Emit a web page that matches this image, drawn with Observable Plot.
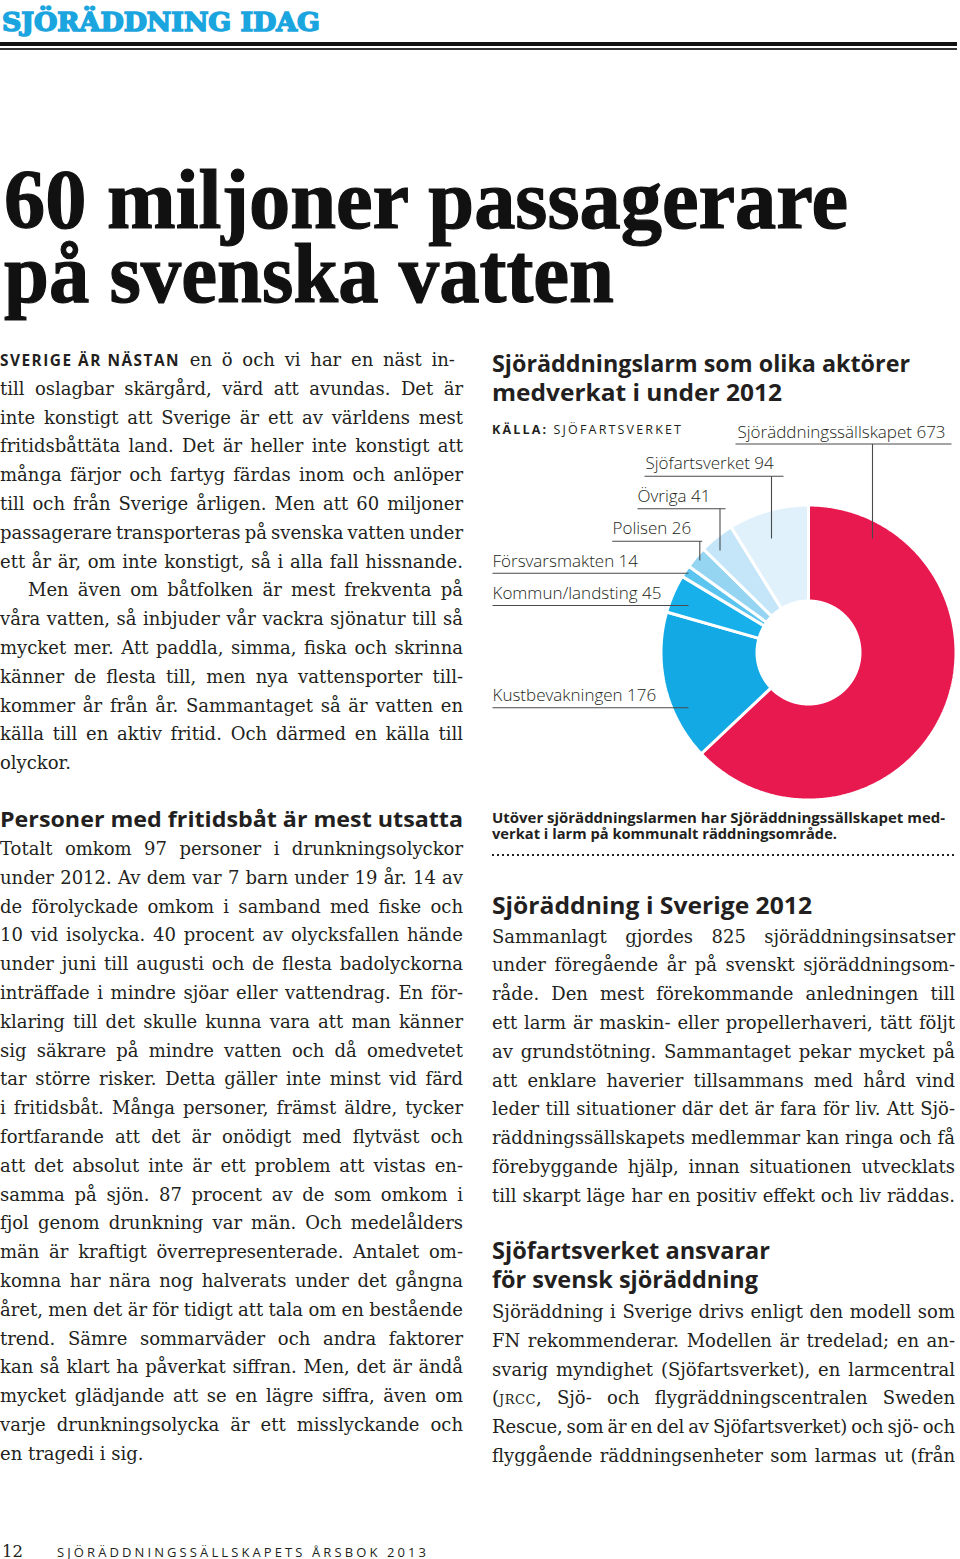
<!DOCTYPE html>
<html><head><meta charset="utf-8">
<script src="https://cdn.jsdelivr.net/npm/d3@7"></script>
<script src="https://cdn.jsdelivr.net/npm/@observablehq/plot@0.6"></script>
<style>
html,body{margin:0;padding:0;background:#fff;}
#page{position:relative;width:960px;height:1559px;overflow:hidden;background:#fff;color:#231f20;}
.t{position:absolute;white-space:pre;line-height:1;z-index:2;}
.ln{display:inline-block;transform-origin:0 0;}
.sc{font-variant-caps:all-small-caps;letter-spacing:0.5px;}
.lead{font-family:"Open Sans",sans-serif;font-weight:700;font-size:15.4px;letter-spacing:1.5px;word-spacing:0;}
#chart{position:absolute;left:480px;top:410px;width:480px;height:400px;z-index:1;}
</style></head><body><div id="page"><div id="chart"></div></div>
<script>
// ---------- DATA ----------
const actors = ["Sjöräddningssällskapet","Kustbevakningen","Kommun/landsting","Försvarsmakten","Polisen","Övriga","Sjöfartsverket"];
const alarms = [673,176,45,14,26,41,94];
const actorColors = ["#e8194f","#13a9e4","#18b0ea","#5cc5ef","#96d5f2","#c4e6f8","#e0f1fb"];

const pageSection = "SJÖRÄDDNING IDAG";
const headline = ["60 miljoner passagerare","på svenska vatten"];
const chartTitle = ["Sjöräddningslarm som olika aktörer","medverkat i under 2012"];
const sourceLabel = "KÄLLA:";
const sourceName = "SJÖFARTSVERKET";
const leadIn = "SVERIGE ÄR NÄSTAN";
const introLines = [
"en ö och vi har en näst in-",
"till oslagbar skärgård, värd att avundas. Det är",
"inte konstigt att Sverige är ett av världens mest",
"fritidsbåttäta land. Det är heller inte konstigt att",
"många färjor och fartyg färdas inom och anlöper",
"till och från Sverige årligen. Men att 60 miljoner",
"passagerare transporteras på svenska vatten under",
"ett år är, om inte konstigt, så i alla fall hissnande.",
"Men även om båtfolken är mest frekventa på",
"våra vatten, så inbjuder vår vackra sjönatur till så",
"mycket mer. Att paddla, simma, fiska och skrinna",
"känner de flesta till, men nya vattensporter till-",
"kommer år från år. Sammantaget så är vatten en",
"källa till en aktiv fritid. Och därmed en källa till",
"olyckor."];
const boatHeading = "Personer med fritidsbåt är mest utsatta";
const boatLines = [
"Totalt omkom 97 personer i drunkningsolyckor",
"under 2012. Av dem var 7 barn under 19 år. 14 av",
"de förolyckade omkom i samband med fiske och",
"10 vid isolycka. 40 procent av olycksfallen hände",
"under juni till augusti och de flesta badolyckorna",
"inträffade i mindre sjöar eller vattendrag. En för-",
"klaring till det skulle kunna vara att man känner",
"sig säkrare på mindre vatten och då omedvetet",
"tar större risker. Detta gäller inte minst vid färd",
"i fritidsbåt. Många personer, främst äldre, tycker",
"fortfarande att det är onödigt med flytväst och",
"att det absolut inte är ett problem att vistas en-",
"samma på sjön. 87 procent av de som omkom i",
"fjol genom drunkning var män. Och medelålders",
"män är kraftigt överrepresenterade. Antalet om-",
"komna har nära nog halverats under det gångna",
"året, men det är för tidigt att tala om en bestående",
"trend. Sämre sommarväder och andra faktorer",
"kan så klart ha påverkat siffran. Men, det är ändå",
"mycket glädjande att se en lägre siffra, även om",
"varje drunkningsolycka är ett misslyckande och",
"en tragedi i sig."];
const noteLines = ["Utöver sjöräddningslarmen har Sjöräddningssällskapet med-","verkat i larm på kommunalt räddningsområde."];
const rescueHeading = "Sjöräddning i Sverige 2012";
const rescueLines = [
"Sammanlagt gjordes 825 sjöräddningsinsatser",
"under föregående år på svenskt sjöräddningsom-",
"råde. Den mest förekommande anledningen till",
"ett larm är maskin- eller propellerhaveri, tätt följt",
"av grundstötning. Sammantaget pekar mycket på",
"att enklare haverier tillsammans med hård vind",
"leder till situationer där det är fara för liv. Att Sjö-",
"räddningssällskapets medlemmar kan ringa och få",
"förebyggande hjälp, innan situationen utvecklats",
"till skarpt läge har en positiv effekt och liv räddas."];
const agencyHeading = ["Sjöfartsverket ansvarar","för svensk sjöräddning"];
const agencyLines = [
"Sjöräddning i Sverige drivs enligt den modell som",
"FN rekommenderar. Modellen är tredelad; en an-",
"svarig myndighet (Sjöfartsverket), en larmcentral",
"(JRCC, Sjö- och flygräddningscentralen Sweden",
"Rescue, som är en del av Sjöfartsverket) och sjö- och",
"flyggående räddningsenheter som larmas ut (från"];
const pageNumber = "12";
const footerText = "SJÖRÄDDNINGSSÄLLSKAPETS ÅRSBOK 2013";

// ---------- TEXT LAYOUT HELPERS ----------
const page = document.getElementById("page");
const esc = s => s.replace(/&/g,"&amp;").replace(/</g,"&lt;");
function probeEl() {
  const p = document.createElement("span");
  p.style.cssText = "display:inline-block;width:0;height:0;vertical-align:baseline";
  return p;
}
function place(html, o) {
  const d = document.createElement("div");
  d.className = "t";
  d.style.cssText += o.style || "";
  d.style.left = o.x + "px"; d.style.top = "0px";
  const inner = document.createElement("span");
  inner.innerHTML = html;
  const probe = probeEl();
  d.appendChild(inner); d.appendChild(probe);
  page.appendChild(d);
  if (o.width) {
    const w = inner.getBoundingClientRect().width;
    const txt = inner.textContent;
    if (o.fit === "justify") {
      const n = (txt.match(/ /g) || []).length;
      let ws = n ? (o.width - w) / n : 0;
      if (ws < -1.5) {
        const rest = (o.width - w) - (-1.5 * n);
        ws = -1.5;
        d.style.letterSpacing = (rest / (txt.length - 1)) + "px";
      }
      d.style.wordSpacing = ws + "px";
    } else if (o.fit === "scale") {
      d.style.transformOrigin = "0 0";
      d.style.transform = `scaleX(${o.width / w})`;
    } else if (o.fit === "spacing") {
      const base = parseFloat(getComputedStyle(d).letterSpacing) || 0;
      d.style.letterSpacing = (base + (o.width - w) / (txt.length - 1)) + "px";
    }
  }
  const off = probe.getBoundingClientRect().top - d.getBoundingClientRect().top;
  d.style.top = (o.base - off) + "px";
  return d;
}
// several lines as one text block; each line horizontally fitted to its width
function placeLines(lines, o) {
  const d = document.createElement("div");
  d.className = "t";
  d.style.cssText += o.style || "";
  d.style.lineHeight = o.lh + "px";
  d.style.left = o.x + "px"; d.style.top = "0px";
  const spans = lines.map(t => {
    const row = document.createElement("div");
    const s = document.createElement("span");
    s.className = "ln"; s.innerHTML = esc(t);
    row.appendChild(s);
    d.appendChild(row);
    return s;
  });
  const probe = probeEl();
  d.firstChild.appendChild(probe);
  page.appendChild(d);
  spans.forEach((s, i) => {
    const w = s.getBoundingClientRect().width;
    s.style.transform = `scaleX(${o.widths[i] / w})`;
  });
  const off = probe.getBoundingClientRect().top - d.getBoundingClientRect().top;
  d.style.top = (o.base - off) + "px";
  return d;
}
const BODY = 'font-family:"DejaVu Serif",serif;font-size:18px;color:#231f20;';
const SANSB = 'font-family:"Open Sans",sans-serif;font-weight:700;color:#231f20;';
const LH = 28.8;
function bodyBlock(lines, x0, base0, width, opts = {}) {
  lines.forEach((t, i) => {
    const ind = (opts.indent || []).includes(i) ? 28 : 0;
    const last = (opts.ragged || []).includes(i);
    let html = esc(t).replace("JRCC", '<span class="sc">JRCC</span>');
    if (opts.lead && i === 0) html = `<span class="lead">${opts.lead}</span> ` + html;
    place(html, {x: x0 + ind, base: base0 + i * LH, style: BODY, width: last ? null : width - ind, fit: "justify"});
  });
}

// ---------- PAGE HEADER ----------
place(esc(pageSection), {x: 2, base: 30.5, style: 'font-family:"DejaVu Serif",serif;font-weight:900;font-size:26px;color:#1ba5df;-webkit-text-stroke:1.6px #1ba5df;', width: 318, fit: "scale"});
const rule1 = document.createElement("div"); rule1.style.cssText = "position:absolute;left:0;top:42px;width:957px;height:4px;background:#111;"; page.appendChild(rule1);
const rule2 = document.createElement("div"); rule2.style.cssText = "position:absolute;left:0;top:48.3px;width:957px;height:1.7px;background:#333;"; page.appendChild(rule2);

placeLines(headline, {x: 4, base: 228, lh: 74, widths: [844, 610],
  style: 'font-family:"Liberation Serif",serif;font-weight:700;font-size:84px;color:#111;-webkit-text-stroke:1.2px #111;'});

// ---------- LEFT COLUMN ----------
bodyBlock(introLines, 0, 366, 463, {lead: leadIn, indent: [8], ragged: [14]});
place(esc(boatHeading), {x: 0, base: 826.7, style: SANSB + "font-size:21.5px;", width: 463, fit: "scale"});
bodyBlock(boatLines, 0, 855, 463, {ragged: [21]});

// ---------- RIGHT COLUMN ----------
placeLines(chartTitle, {x: 492, base: 372, lh: 28.5, widths: [418, 290], style: SANSB + "font-size:24px;"});
place(`<b style="font-weight:700">${sourceLabel}</b> ${sourceName}`, {x: 492, base: 433.5, style: 'font-family:"Open Sans",sans-serif;font-size:12.5px;letter-spacing:2px;color:#231f20;', width: 191, fit: "spacing"});
placeLines(noteLines, {x: 492, base: 823.3, lh: 16, widths: [453, 345], style: SANSB + "font-size:14.5px;"});
const dots = document.createElement("div");
dots.style.cssText = "position:absolute;left:492px;top:854px;width:464px;height:2px;background-image:linear-gradient(to right,#231f20 2px,transparent 2px);background-size:5px 2px;";
page.appendChild(dots);
place(esc(rescueHeading), {x: 492, base: 913.5, style: SANSB + "font-size:23.5px;", width: 320, fit: "scale"});
bodyBlock(rescueLines, 492, 942.5, 463);
placeLines(agencyHeading, {x: 492, base: 1259.3, lh: 28.7, widths: [278, 266], style: SANSB + "font-size:23.5px;"});
bodyBlock(agencyLines, 492, 1318, 463);

// ---------- FOOTER ----------
place(esc(pageNumber), {x: 2, base: 1556.5, style: 'font-family:"DejaVu Serif",serif;font-size:16.5px;color:#231f20;'});
place(esc(footerText), {x: 57, base: 1556.5, style: 'font-family:"Open Sans",sans-serif;font-size:13px;letter-spacing:2px;color:#231f20;', width: 371, fit: "spacing"});

// ---------- DONUT CHART (Observable Plot) ----------
const W = 480, H = 400;           // svg size
const cx = 328, cy = 242;         // donut centre within the svg
const rOuter = 147.5, rInner = 51.5;
const slices = d3.pie().sort(null).value(d => d.value)(actors.map((name, i) => ({name, value: alarms[i]})));
const arcPts = slices.flatMap(s => {
  const n = Math.max(2, Math.ceil((s.endAngle - s.startAngle) / (Math.PI / 360)));
  const pts = [];
  for (let k = 0; k <= n; k++) {
    const a = s.startAngle + (s.endAngle - s.startAngle) * k / n;
    pts.push({name: s.data.name, x: cx + rOuter * Math.sin(a), y: cy - rOuter * Math.cos(a)});
  }
  for (let k = n; k >= 0; k--) {
    const a = s.startAngle + (s.endAngle - s.startAngle) * k / n;
    pts.push({name: s.data.name, x: cx + rInner * Math.sin(a), y: cy - rInner * Math.cos(a)});
  }
  return pts;
});

// annotation layout (label text anchor, underline, vertical leader) in svg px
const labelLayout = [
  {name: "Sjöräddningssällskapet", tx: 257, ty: 27,    u0: 255,   u1: 471,   uy: 33.5,  lx: 392,   ly: 128},
  {name: "Sjöfartsverket",         tx: 165, ty: 58.5,  u0: 164,   u1: 303,   uy: 65.7,  lx: 291,   ly: 128},
  {name: "Övriga",                 tx: 157, ty: 91,    u0: 157,   u1: 245,   uy: 98.3,  lx: 239.5, ly: 140},
  {name: "Polisen",                tx: 132, ty: 123.5, u0: 131.7, u1: 221.7, uy: 130.7, lx: 219.3, ly: 150},
  {name: "Försvarsmakten",         tx: 12,  ty: 156,   u0: 12,    u1: 208,   uy: 162.7},
  {name: "Kommun/landsting",       tx: 12,  ty: 188.3, u0: 12,    u1: 208,   uy: 195},
  {name: "Kustbevakningen",        tx: 12,  ty: 290,   u0: 12,    u1: 208,   uy: 297.3}
];
const labels = labelLayout.map(l => ({...l, value: alarms[actors.indexOf(l.name)]}));
const leaders = labels.filter(l => l.lx != null);

const chart = Plot.plot({
  width: W, height: H, margin: 0,
  x: {domain: [0, W], range: [0, W], axis: null},
  y: {domain: [0, H], range: [0, H], axis: null},
  color: {domain: actors, range: actorColors},
  style: {background: "transparent", overflow: "visible"},
  marks: [
    Plot.line(arcPts, {x: "x", y: "y", z: "name", fill: "name", stroke: "white", strokeWidth: 3, strokeLinejoin: "miter", curve: "linear-closed"}),
    Plot.link(labels, {x1: "u0", x2: "u1", y1: "uy", y2: "uy", stroke: "#4a4a4a", strokeWidth: 1.1}),
    Plot.link(leaders, {x1: "lx", x2: "lx", y1: "uy", y2: "ly", stroke: "#4a4a4a", strokeWidth: 1.1}),
    Plot.text(labels, {x: "tx", y: "ty", text: d => `${d.name} ${d.value}`, textAnchor: "start", lineAnchor: "bottom",
      fontSize: 17, fontWeight: 300, fontFamily: "Open Sans", fill: "#231f20"})
  ]
});
document.getElementById("chart").appendChild(chart);
</script>
</body></html>
